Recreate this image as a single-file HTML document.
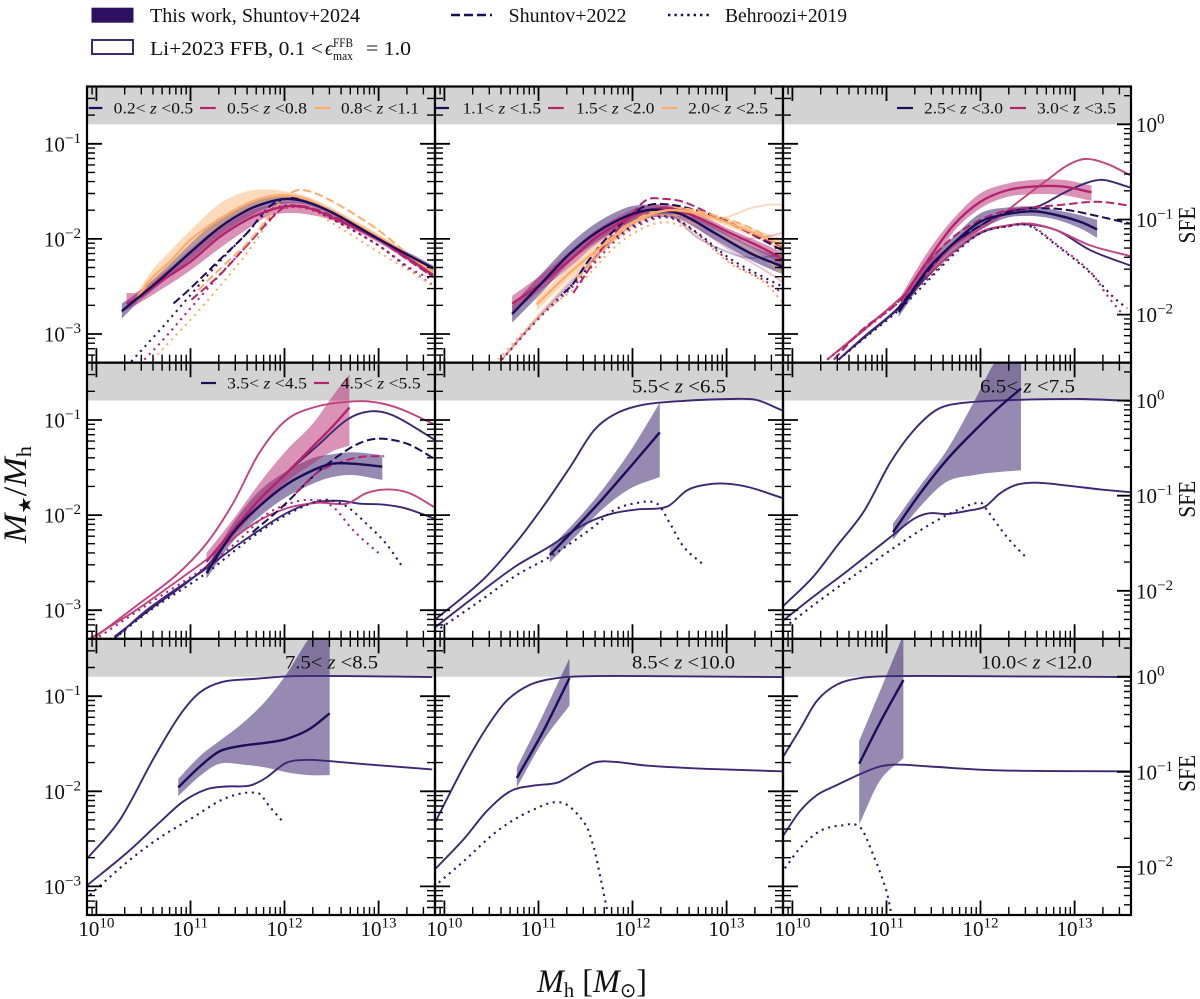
<!DOCTYPE html>
<html lang="en"><head><meta charset="utf-8"><title>Stellar-to-halo mass ratio</title>
<style>
html,body{margin:0;padding:0;background:#fff}
svg{display:block}
text{font-family:"Liberation Serif","DejaVu Serif",serif;fill:#111}
</style></head>
<body>
<svg id="chart" xmlns="http://www.w3.org/2000/svg" width="1200" height="999" viewBox="0 0 1200 999">
<g id="panels"></g>
<g>
<rect x="91.5" y="7.7" width="42" height="15" fill="#2d1160"/>
<text x="150" y="22" font-size="20" textLength="210" lengthAdjust="spacingAndGlyphs">This work, Shuntov+2024</text>
<rect x="92" y="40" width="41" height="14" fill="#fff" stroke="#3f2a72" stroke-width="2"/>
<text x="150" y="55" font-size="20" textLength="173" lengthAdjust="spacingAndGlyphs">Li+2023 FFB, 0.1 &lt;</text>
<text x="325" y="55" font-size="20" font-style="italic">ϵ</text>
<text x="333" y="47" font-size="12.5" textLength="20" lengthAdjust="spacingAndGlyphs">FFB</text>
<text x="333" y="60" font-size="12.5" textLength="20" lengthAdjust="spacingAndGlyphs">max</text>
<text x="366" y="55" font-size="20" textLength="45" lengthAdjust="spacingAndGlyphs">= 1.0</text>
<line x1="451" y1="15" x2="492" y2="15" stroke="#1c0c5a" stroke-width="2.4" stroke-dasharray="9 4"/>
<text x="508.5" y="22" font-size="20" textLength="118" lengthAdjust="spacingAndGlyphs">Shuntov+2022</text>
<line x1="668" y1="15" x2="709" y2="15" stroke="#1c0c5a" stroke-width="2.4" stroke-dasharray="2.4 4"/>
<text x="725" y="22" font-size="20" textLength="122" lengthAdjust="spacingAndGlyphs">Behroozi+2019</text>
</g>
<text transform="translate(26,543) rotate(-90)" font-size="33" textLength="97" lengthAdjust="spacingAndGlyphs"><tspan font-style="italic">M</tspan><tspan font-size="18" dy="5">★</tspan><tspan dy="-5">/</tspan><tspan font-style="italic">M</tspan><tspan font-size="21" dy="5">h</tspan></text>
<text x="537" y="992" font-size="33" textLength="110" lengthAdjust="spacingAndGlyphs"><tspan font-style="italic">M</tspan><tspan font-size="21" dy="5">h</tspan><tspan dy="-5"> [</tspan><tspan font-style="italic">M</tspan><tspan font-size="20" dy="5" font-family="DejaVu Sans">⊙</tspan><tspan dy="-5">]</tspan></text>
</svg>
<script>
/* ---------- tick labels ---------- */
const xTickExponents = ['10', '11', '12', '13'];
const yTickExponents = ['−1', '−2', '−3'];
const sfeTickExponents = ['0', '−1', '−2'];

/* ---------- values: [log10 halo mass, median, lower, upper] as log10 of the stellar-to-halo ratio ---------- */
const p1BandNavy = [[10.27,-2.76,-2.84,-2.68],[10.43,-2.63,-2.68,-2.57],[10.71,-2.40,-2.45,-2.33],[11,-2.14,-2.22,-2.05],[11.31,-1.88,-1.96,-1.78],[11.6,-1.70,-1.78,-1.62],[11.81,-1.62,-1.68,-1.55],[12,-1.58,-1.63,-1.54],[12.23,-1.61,-1.64,-1.58],[12.52,-1.73,-1.76,-1.70],[13,-2.0,-2.02,-1.98],[13.37,-2.2,-2.23,-2.17],[13.58,-2.31,-2.34,-2.28]];
const p1BandPink = [[10.32,-2.68,-2.75,-2.57],[10.43,-2.63,-2.69,-2.56],[10.71,-2.43,-2.52,-2.36],[11,-2.24,-2.33,-2.15],[11.31,-1.98,-2.1,-1.9],[11.6,-1.80,-1.9,-1.72],[11.81,-1.71,-1.77,-1.65],[12,-1.66,-1.73,-1.61],[12.23,-1.67,-1.74,-1.63],[12.52,-1.78,-1.81,-1.75],[13,-2.01,-2.04,-1.98],[13.37,-2.24,-2.27,-2.2],[13.58,-2.38,-2.41,-2.34]];
const p1BandOrange = [[10.43,-2.63,-2.68,-2.58],[10.57,-2.43,-2.5,-2.36],[10.78,-2.24,-2.3,-2.13],[11,-2.01,-2.1,-1.91],[11.31,-1.79,-1.87,-1.63],[11.6,-1.63,-1.7,-1.5],[11.81,-1.56,-1.62,-1.48],[12,-1.54,-1.6,-1.5],[12.23,-1.58,-1.61,-1.55],[12.52,-1.72,-1.75,-1.68],[13,-1.98,-2,-1.95],[13.37,-2.21,-2.24,-2.18],[13.58,-2.35,-2.38,-2.32]];
const p1DashNavy = [[10.82,-2.68],[11,-2.52],[11.31,-2.22],[11.6,-1.94],[11.84,-1.66],[12.02,-1.58],[12.23,-1.58],[12.52,-1.73],[13,-2],[13.37,-2.24],[13.58,-2.4]];
const p1DashPink = [[11.01,-2.64],[11.31,-2.38],[11.6,-2.07],[11.95,-1.7],[12.09,-1.65],[12.3,-1.68],[12.59,-1.8],[13,-2.01],[13.37,-2.26],[13.58,-2.4]];
const p1DashOrange = [[11.08,-2.54],[11.35,-2.28],[11.6,-2.05],[11.81,-1.8],[11.99,-1.58],[12.13,-1.49],[12.3,-1.51],[12.59,-1.65],[13,-1.91],[13.37,-2.21],[13.58,-2.36]];
const p1DotNavy = [[10.37,-3.29],[10.71,-2.92],[11,-2.59],[11.31,-2.24],[11.6,-1.94],[11.81,-1.72],[12,-1.65],[12.23,-1.67],[12.52,-1.8],[13,-2.07],[13.37,-2.35],[13.58,-2.49]];
const p1DotPink = [[10.51,-3.27],[10.71,-3.06],[11,-2.73],[11.31,-2.38],[11.6,-2.07],[11.84,-1.79],[12,-1.68],[12.23,-1.68],[12.52,-1.8],[13,-2.07],[13.37,-2.33],[13.58,-2.43]];
const p1DotOrange = [[10.6,-3.27],[10.78,-3.08],[11,-2.85],[11.31,-2.5],[11.6,-2.15],[11.84,-1.82],[12,-1.67],[12.23,-1.68],[12.52,-1.84],[13,-2.14],[13.37,-2.36],[13.58,-2.5]];

const p2BandNavy = [[10.72,-2.79,-2.88,-2.7],[11,-2.5,-2.6,-2.4],[11.34,-2.15,-2.24,-2.05],[11.62,-1.93,-2.03,-1.83],[11.94,-1.76,-1.84,-1.67],[12.15,-1.7,-1.78,-1.64],[12.33,-1.7,-1.77,-1.65],[12.54,-1.75,-1.81,-1.7],[12.86,-1.93,-2.0,-1.87],[13.25,-2.15,-2.22,-2.07],[13.59,-2.29,-2.37,-2.2]];
const p2BandPink = [[10.72,-2.68,-2.77,-2.6],[11,-2.49,-2.56,-2.4],[11.34,-2.22,-2.29,-2.13],[11.62,-1.98,-2.05,-1.9],[11.98,-1.77,-1.83,-1.7],[12.15,-1.7,-1.76,-1.65],[12.4,-1.68,-1.72,-1.64],[12.68,-1.77,-1.81,-1.73],[13.04,-1.94,-1.98,-1.9],[13.39,-2.1,-2.15,-2.05],[13.59,-2.21,-2.28,-2.14]];
const p2BandOrange = [[10.98,-2.69,-2.76,-2.62],[11.34,-2.35,-2.41,-2.28],[11.62,-2.12,-2.18,-2.05],[11.98,-1.84,-1.9,-1.78],[12.26,-1.72,-1.76,-1.68],[12.47,-1.7,-1.73,-1.66],[12.76,-1.75,-1.78,-1.71],[13.04,-1.84,-1.88,-1.8],[13.39,-1.98,-2.03,-1.93],[13.59,-2.07,-2.14,-2.0]];
const p2DashNavy = [[11.27,-2.57],[11.37,-2.47],[11.51,-2.26],[11.69,-2.03],[11.94,-1.79],[12.15,-1.65],[12.4,-1.64],[12.68,-1.7],[12.97,-1.8],[13.25,-1.94],[13.59,-2.12]];
const p2DashPink = [[11.37,-2.57],[11.51,-2.36],[11.69,-2.08],[11.94,-1.8],[12.15,-1.59],[12.33,-1.58],[12.54,-1.61],[12.79,-1.72],[13.04,-1.84],[13.39,-2],[13.59,-2.08]];
const p2DashOrange = [[11.41,-2.42],[11.69,-2.12],[11.98,-1.84],[12.26,-1.7],[12.54,-1.68],[12.86,-1.75],[13.22,-1.87],[13.59,-2.07]];
const p2DotNavy = [[10.61,-3.27],[11,-2.84],[11.44,-2.4],[11.83,-1.98],[12.15,-1.8],[12.4,-1.77],[12.68,-1.93],[13.04,-2.21],[13.39,-2.4],[13.59,-2.5]];
const p2DotPink = [[10.61,-3.27],[11,-2.84],[11.44,-2.43],[11.83,-2.01],[12.15,-1.82],[12.4,-1.78],[12.68,-1.94],[13.04,-2.24],[13.39,-2.43],[13.59,-2.57]];
const p2DotOrange = [[10.57,-3.27],[11,-2.82],[11.44,-2.47],[11.83,-2.07],[12.15,-1.87],[12.4,-1.83],[12.68,-1.96],[13.04,-2.26],[13.39,-2.45],[13.59,-2.66]];
const p2FaintOrange = [[10.61,-3.27],[11,-2.8],[11.44,-2.33],[11.83,-1.94],[12.15,-1.77],[12.4,-1.75],[12.68,-1.76],[12.97,-1.78],[13.25,-1.68],[13.46,-1.64],[13.59,-1.64]];
const p2FaintNavy = [[10.61,-3.27],[11,-2.82],[11.44,-2.36],[11.83,-1.98],[12.15,-1.75],[12.4,-1.74],[12.68,-1.98],[13.04,-2.15],[13.25,-2.2],[13.59,-2.17]];
const p2FaintPink = [[10.61,-3.27],[11,-2.83],[11.44,-2.38],[11.83,-1.95],[12.15,-1.78],[12.4,-1.74],[12.68,-1.85],[13.04,-2.0],[13.39,-1.98],[13.59,-1.94]];
const p2FaintOrangeLow = [[12.4,-1.75],[12.68,-1.85],[13.04,-2.0],[13.39,-2.2],[13.59,-2.36]];
const p2FaintPinkLow = [[12.4,-1.75],[12.68,-1.88],[13.04,-2.12],[13.39,-2.32],[13.59,-2.45]];

const p3BandNavy = [[11.13,-2.77,-2.82,-2.70],[11.43,-2.33,-2.40,-2.24],[11.71,-2.05,-2.14,-1.98],[12,-1.82,-1.91,-1.73],[12.28,-1.74,-1.78,-1.67],[12.56,-1.71,-1.76,-1.66],[12.81,-1.75,-1.80,-1.70],[13.06,-1.82,-1.89,-1.75],[13.24,-1.9,-1.99,-1.80]];
const p3BandPink = [[11.16,-2.64,-2.71,-2.59],[11.43,-2.24,-2.36,-2.15],[11.71,-1.86,-1.93,-1.79],[12,-1.61,-1.68,-1.52],[12.28,-1.49,-1.56,-1.42],[12.56,-1.45,-1.53,-1.38],[12.88,-1.45,-1.54,-1.38],[13.18,-1.51,-1.6,-1.44]];
const p3DashNavy = [[11.11,-2.75],[11.43,-2.35],[11.71,-2.05],[12,-1.86],[12.28,-1.72],[12.56,-1.68],[12.88,-1.69],[13.24,-1.76],[13.59,-1.84]];
const p3DashPink = [[10.44,-3.27],[10.76,-2.94],[11.11,-2.68],[11.43,-2.26],[11.71,-1.98],[12,-1.8],[12.28,-1.7],[12.56,-1.67],[12.88,-1.64],[13.24,-1.61],[13.59,-1.65]];
const p3DotNavy = [[10.49,-3.27],[10.76,-3.05],[11.13,-2.75],[11.43,-2.45],[11.71,-2.17],[12,-1.94],[12.28,-1.87],[12.51,-1.86],[12.81,-2.07],[13.17,-2.36],[13.41,-2.61],[13.56,-2.73]];
const p3DotPink = [[10.37,-3.27],[10.76,-2.96],[11.13,-2.67],[11.43,-2.43],[11.71,-2.15],[12,-1.93],[12.28,-1.87],[12.51,-1.85],[12.81,-2.06],[13.17,-2.35],[13.35,-2.6],[13.49,-2.77]];
const p3LowerNavy = [[10.49,-3.27],[10.76,-3.04],[11.13,-2.73],[11.43,-2.4],[11.71,-2.14],[12,-1.94],[12.28,-1.86],[12.53,-1.85],[12.81,-1.91],[13.17,-2.12],[13.59,-2.28]];
const p3LowerPink = [[10.37,-3.27],[10.76,-2.96],[11.13,-2.64],[11.43,-2.38],[11.71,-2.14],[12,-1.93],[12.28,-1.86],[12.53,-1.84],[12.81,-1.91],[13.17,-2.07],[13.59,-2.18]];
const p3UpperNavy = [[10.49,-3.27],[10.76,-3.03],[11.13,-2.72],[11.43,-2.36],[11.71,-2.07],[12,-1.86],[12.28,-1.72],[12.63,-1.65],[12.88,-1.52],[13.13,-1.41],[13.31,-1.38],[13.59,-1.46]];
const p3UpperPink = [[10.37,-3.27],[10.76,-2.95],[11.13,-2.64],[11.43,-2.36],[11.71,-2.08],[12,-1.89],[12.17,-1.79],[12.35,-1.65],[12.71,-1.38],[12.92,-1.23],[13.11,-1.16],[13.34,-1.21],[13.59,-1.33]];

const p4BandNavy = [[11.17,-2.61,-2.67,-2.56],[11.45,-2.19,-2.28,-2.09],[11.73,-1.91,-2.02,-1.75],[12.02,-1.68,-1.81,-1.54],[12.3,-1.53,-1.67,-1.40],[12.51,-1.46,-1.6,-1.36],[12.73,-1.46,-1.58,-1.34],[13.04,-1.49,-1.63,-1.37]];
const p4BandPink = [[11.17,-2.49,-2.51,-2.40],[11.45,-2.16,-2.23,-2.05],[11.73,-1.84,-1.93,-1.67],[12.02,-1.56,-1.65,-1.32],[12.3,-1.28,-1.46,-1.04],[12.51,-1.07,-1.33,-0.75],[12.69,-0.87,-1.27,-0.52]];
const p4DashNavy = [[11.66,-2.18],[11.98,-1.91],[12.34,-1.56],[12.69,-1.3],[12.9,-1.21],[13.08,-1.2],[13.33,-1.26],[13.58,-1.4]];
const p4DashPink = [[12.12,-1.77],[12.34,-1.56],[12.55,-1.46],[12.8,-1.39],[13.06,-1.38]];
const p4DotNavy = [[10.19,-3.3],[10.56,-3.01],[11.17,-2.61],[11.45,-2.39],[11.73,-2.18],[12.02,-2],[12.3,-1.87],[12.46,-1.84],[12.66,-1.91],[12.87,-2.09],[13.08,-2.3],[13.25,-2.54]];
const p4DotPink = [[10.03,-3.28],[10.56,-2.93],[11.17,-2.54],[11.52,-2.26],[11.8,-2],[12.02,-1.89],[12.27,-1.84],[12.51,-1.91],[12.73,-2.16],[13,-2.4]];
const p4LowerNavy = [[10.19,-3.3],[10.56,-2.98],[11.17,-2.56],[11.45,-2.35],[11.73,-2.16],[12.02,-1.98],[12.3,-1.87],[12.59,-1.85],[12.8,-1.88],[13.05,-1.89],[13.29,-1.93],[13.6,-2.04]];
const p4LowerPink = [[9.9,-3.32],[10.39,-3.02],[10.85,-2.7],[11.17,-2.47],[11.66,-2.1],[12.02,-1.93],[12.37,-1.87],[12.66,-1.88],[12.87,-1.77],[13.1,-1.73],[13.33,-1.77],[13.6,-1.92]];
const p4UpperNavy = [[10.19,-3.28],[10.56,-3.0],[11.17,-2.54],[11.45,-2.19],[11.73,-1.84],[12.02,-1.56],[12.34,-1.28],[12.66,-1],[12.9,-0.91],[13.15,-0.95],[13.6,-1.21]];
const p4UpperPink = [[9.99,-3.28],[10.39,-2.98],[10.85,-2.63],[11.17,-2.3],[11.45,-1.88],[11.73,-1.35],[12.02,-1],[12.34,-0.86],[12.66,-0.81],[12.94,-0.81],[13.22,-0.88],[13.6,-1.05]];

const p5BandNavy = [[11.12,-2.42,-2.5,-2.35],[11.41,-2.12,-2.21,-2.05],[11.69,-1.82,-1.93,-1.72],[11.98,-1.49,-1.72,-1.32],[12.29,-1.13,-1.6,-0.82]];
const p5Upper = [[9.9,-3.1],[10.41,-2.68],[10.77,-2.28],[11.05,-1.91],[11.34,-1.49],[11.59,-1.11],[11.83,-0.93],[12.12,-0.84],[12.54,-0.8],[13.04,-0.78],[13.32,-0.79],[13.59,-0.9]];
const p5Lower = [[9.9,-3.18],[10.41,-2.79],[10.77,-2.53],[11.12,-2.33],[11.41,-2.14],[11.59,-2.05],[11.8,-1.98],[12.05,-1.94],[12.37,-1.91],[12.58,-1.74],[12.79,-1.68],[13,-1.67],[13.25,-1.71],[13.59,-1.82]];
const p5Dot = [[9.9,-3.23],[10.41,-2.88],[10.77,-2.63],[11.12,-2.44],[11.41,-2.25],[11.59,-2.12],[11.8,-1.95],[12.01,-1.88],[12.26,-1.88],[12.4,-2.09],[12.54,-2.33],[12.75,-2.52]];

const p6BandNavy = [[11.07,-2.18,-2.26,-2.09],[11.36,-1.77,-1.91,-1.69],[11.64,-1.42,-1.65,-1.32],[11.93,-1.12,-1.58,-0.81],[12.17,-0.89,-1.55,-0.37],[12.43,-0.67,-1.53,-0.2]];
const p6Upper = [[9.9,-2.96],[10.22,-2.65],[10.47,-2.33],[10.76,-1.96],[11.04,-1.45],[11.29,-1.11],[11.54,-0.89],[11.82,-0.82],[12.35,-0.79],[13.06,-0.78],[13.59,-0.8]];
const p6Lower = [[9.9,-3.11],[10.22,-2.86],[10.58,-2.59],[11.07,-2.21],[11.29,-2.04],[11.46,-1.98],[11.64,-1.99],[11.89,-1.95],[12.05,-1.91],[12.21,-1.77],[12.39,-1.68],[12.6,-1.66],[12.92,-1.69],[13.27,-1.73],[13.59,-1.76]];
const p6Dot = [[9.97,-3.14],[10.22,-2.95],[10.58,-2.69],[11.07,-2.35],[11.46,-2.1],[11.75,-1.95],[12,-1.87],[12.07,-1.95],[12.28,-2.23],[12.49,-2.45]];

const p7BandNavy = [[10.87,-1.96,-2.05,-1.87],[11.1,-1.74,-1.84,-1.63],[11.31,-1.58,-1.71,-1.47],[11.56,-1.52,-1.72,-1.28],[11.8,-1.49,-1.75,-1.05],[12.02,-1.45,-1.8,-0.77],[12.26,-1.35,-1.83,-0.39],[12.48,-1.18,-1.83,-0.1]];
const p7Upper = [[9.9,-2.71],[10.25,-2.3],[10.6,-1.67],[10.88,-1.21],[11.1,-0.96],[11.34,-0.85],[11.66,-0.82],[12.08,-0.79],[12.79,-0.79],[13.57,-0.8]];
const p7Lower = [[9.9,-2.99],[10.32,-2.65],[10.67,-2.33],[10.92,-2.11],[11.17,-1.98],[11.38,-1.95],[11.63,-1.94],[11.8,-1.86],[12.02,-1.7],[12.23,-1.67],[12.44,-1.68],[12.79,-1.71],[13.57,-1.77]];
const p7Dot = [[9.93,-3.09],[10.32,-2.75],[10.67,-2.49],[11.02,-2.28],[11.38,-2.07],[11.72,-2.02],[11.84,-2.16],[12,-2.34]];

const p8BandNavy = [[10.77,-1.86,-1.96,-1.75],[11.05,-1.37,-1.47,-1.19],[11.33,-0.81,-1.1,-0.6]];
const p8Upper = [[9.9,-2.33],[10.2,-1.75],[10.45,-1.33],[10.66,-1.05],[10.91,-0.88],[11.2,-0.81],[11.55,-0.79],[12.33,-0.79],[13.59,-0.8]];
const p8Lower = [[9.9,-2.82],[10.2,-2.51],[10.45,-2.21],[10.7,-2],[10.95,-1.94],[11.2,-1.91],[11.37,-1.82],[11.59,-1.7],[11.8,-1.69],[12.15,-1.73],[12.68,-1.76],[13.59,-1.79]];
const p8Dot = [[9.94,-2.96],[10.2,-2.74],[10.56,-2.42],[10.91,-2.21],[11.25,-2.12],[11.5,-2.35],[11.59,-2.6],[11.66,-2.91],[11.73,-3.25]];

const p9BandNavy = [[10.71,-1.71,-2.35,-1.47],[10.93,-1.28,-1.89,-0.95],[11.18,-0.83,-1.65,-0.35]];
const p9Upper = [[9.9,-1.64],[10.08,-1.35],[10.26,-1.05],[10.47,-0.88],[10.72,-0.81],[11,-0.79],[12,-0.79],[13.59,-0.8]];
const p9Lower = [[9.9,-2.47],[10.08,-2.21],[10.26,-2.04],[10.44,-1.95],[10.72,-1.82],[10.93,-1.74],[11.11,-1.72],[11.46,-1.74],[12.17,-1.78],[13.59,-1.79]];
const p9Dot = [[9.92,-2.81],[10.08,-2.6],[10.29,-2.42],[10.52,-2.36],[10.72,-2.38],[10.86,-2.67],[11,-3.05],[11.05,-3.28]];

/* ---------- layout and axis functions ---------- */
const NS = 'http://www.w3.org/2000/svg';
const root = document.getElementById('panels');
const colLeft = [87, 435, 783], rowTop = [86.5, 362.7, 638.9];
const panelW = 348, panelH = 276.1;
const xMin = 9.9, xMax = 13.6, yMin = Math.log10(5e-4), yMax = Math.log10(0.4);
const baryon = Math.log10(0.16);
const COLORS = {navy:'#1c0c5a', pink:'#b4246c', orange:'#fdae6b'};
const BAND = {navy:'#2d1566', pink:'#b5286f', orange:'#fda75f'};
const FFB = {navy:'#3d2674', pink:'#c1437f', orange:'#fdb27a'};

const xAxis = (col, v) => colLeft[col] + (v - xMin) / (xMax - xMin) * panelW;
const yAxis = (row, v) => rowTop[row] + (yMax - v) / (yMax - yMin) * panelH;

function mk(tag, parent) {
  const e = document.createElementNS(NS, tag);
  parent.appendChild(e);
  return e;
}
function spline(pts) {
  const n = pts.length;
  const slope = i => {
    const a = pts[Math.max(i - 1, 0)], b = pts[Math.min(i + 1, n - 1)];
    return (b[1] - a[1]) / (b[0] - a[0]);
  };
  let d = '';
  for (let i = 0; i < n - 1; i++) {
    const p1 = pts[i], p2 = pts[i + 1], h = (p2[0] - p1[0]) / 3;
    const c1y = p1[1] + slope(i) * h, c2y = p2[1] - slope(i + 1) * h;
    d += 'C' + [p1[0] + h, c1y, p2[0] - h, c2y, p2[0], p2[1]].map(v => v.toFixed(1)).join(' ');
  }
  return d;
}
function drawBand(g, col, row, data, color) {
  const up = data.map(d => [xAxis(col, d[0]), yAxis(row, d[3])]);
  const lo = data.map(d => [xAxis(col, d[0]), yAxis(row, d[2])]).reverse();
  const path = mk('path', g);
  
  
  path.setAttribute('d', 'M' + up[0].join(' ') + spline(up) + 'L' + lo[0].join(' ') + spline(lo) + 'Z');
  path.setAttribute('fill', BAND[color]);
  path.setAttribute('fill-opacity', color === 'orange' ? '0.42' : '0.5');
}
function drawLine(g, col, row, data, color, style, opacity) {
  const pts = data.map(d => [xAxis(col, d[0]), yAxis(row, d[1])]);
  const path = mk('path', g);
  
  
  path.setAttribute('d', 'M' + pts[0].join(' ') + spline(pts));
  path.setAttribute('fill', 'none');
  if (style === 'median') { path.setAttribute('stroke', COLORS[color]); path.setAttribute('stroke-width', '2.4'); }
  if (style === 'dashed') { path.setAttribute('stroke', COLORS[color]); path.setAttribute('stroke-width', '2'); path.setAttribute('stroke-dasharray', '8.5 3.8'); }
  if (style === 'dotted') { path.setAttribute('stroke', color === 'navy' ? '#2c1566' : COLORS[color]); path.setAttribute('stroke-width', '2.1'); path.setAttribute('stroke-dasharray', '2.1 4.6'); }
  if (style === 'ffb') { path.setAttribute('stroke', FFB[color]); path.setAttribute('stroke-width', '1.9'); }
  if (opacity) path.setAttribute('stroke-opacity', opacity);
}

const panelBands = [
  [[p1BandNavy,'navy'],[p1BandPink,'pink'],[p1BandOrange,'orange']],
  [[p2BandOrange,'orange'],[p2BandNavy,'navy'],[p2BandPink,'pink']],
  [[p3BandNavy,'navy'],[p3BandPink,'pink']],
  [[p4BandNavy,'navy'],[p4BandPink,'pink']],
  [[p5BandNavy,'navy']],[[p6BandNavy,'navy']],[[p7BandNavy,'navy']],[[p8BandNavy,'navy']],[[p9BandNavy,'navy']]
];
const panelDashed = [
  [[p1DashNavy,'navy'],[p1DashPink,'pink'],[p1DashOrange,'orange']],
  [[p2DashNavy,'navy'],[p2DashPink,'pink'],[p2DashOrange,'orange']],
  [[p3DashNavy,'navy'],[p3DashPink,'pink']],
  [[p4DashNavy,'navy'],[p4DashPink,'pink']],[],[],[],[],[]
];
const panelDotted = [
  [[p1DotNavy,'navy'],[p1DotPink,'pink'],[p1DotOrange,'orange']],
  [[p2DotNavy,'navy'],[p2DotPink,'pink'],[p2DotOrange,'orange']],
  [[p3DotNavy,'navy'],[p3DotPink,'pink']],
  [[p4DotNavy,'navy'],[p4DotPink,'pink']],
  [[p5Dot,'navy']],[[p6Dot,'navy']],[[p7Dot,'navy']],[[p8Dot,'navy']],[[p9Dot,'navy']]
];
const panelFfb = [
  [],
  [[p2FaintNavy,'navy','0.33'],[p2FaintPink,'pink','0.33'],[p2FaintOrange,'orange','0.5'],[p2FaintOrangeLow,'orange','0.5'],[p2FaintPinkLow,'pink','0.33']],
  [[p3LowerNavy,'navy'],[p3LowerPink,'pink'],[p3UpperNavy,'navy'],[p3UpperPink,'pink']],
  [[p4LowerNavy,'navy'],[p4LowerPink,'pink'],[p4UpperNavy,'navy'],[p4UpperPink,'pink']],
  [[p5Upper,'navy'],[p5Lower,'navy']],[[p6Upper,'navy'],[p6Lower,'navy']],[[p7Upper,'navy'],[p7Lower,'navy']],[[p8Upper,'navy'],[p8Lower,'navy']],[[p9Upper,'navy'],[p9Lower,'navy']]
];
const panelKeys = [
  [[88.7,102.4,'navy',113.7,79.5,'0.2','0.5'],[200,215.7,'pink',227,80,'0.5','0.8'],[314.7,330,'orange',341,78,'0.8','1.1']],
  [[436,449,'navy',462.6,78.5,'1.1','1.5'],[548,563.7,'pink',576,78.5,'1.5','2.0'],[661.6,677,'orange',688,80,'2.0','2.5']],
  [[897,913,'navy',924,79,'2.5','3.0'],[1010,1026,'pink',1037,79,'3.0','3.5']],
  [[201,216,'navy',227,80,'3.5','4.5'],[314,329,'pink',340.7,80,'4.5','5.5']],
  [],[],[],[],[]
];
const panelTitles = [null,null,null,null,[632,94,'5.5','6.5',386],[980,95,'6.5','7.5',386],[285,93,'7.5','8.5',662],[632,103,'8.5','10.0',662],[981,111,'10.0','12.0',662]];

function rangeLabel(t, lo, hi) {
  t.appendChild(document.createTextNode(lo + '< '));
  const z = mk('tspan', t);
  z.setAttribute('font-style', 'italic');
  z.textContent = 'z';
  t.appendChild(document.createTextNode(' <' + hi));
}
function tickLabel(parent, x, y, anchor, exponent, size) {
  const t = mk('text', parent);
  
  
  t.setAttribute('x', x);
  t.setAttribute('y', y);
  t.setAttribute('text-anchor', anchor);
  t.setAttribute('font-size', size);
  t.appendChild(document.createTextNode('10'));
  const s = mk('tspan', t);
  s.setAttribute('dy', '-8.5');
  s.setAttribute('font-size', size * 0.72);
  s.textContent = exponent;
}

for (let row = 0; row < 3; row++) for (let col = 0; col < 3; col++) {
  const idx = row * 3 + col;
  const L = colLeft[col], T = rowTop[row], R = L + panelW, B = T + panelH;
  const g = mk('g', root);
  
  
  const cp = mk('clipPath', g);
  cp.setAttribute('id', 'clip' + idx);
  const cr = mk('rect', cp);
  cr.setAttribute('x', L); cr.setAttribute('y', T); cr.setAttribute('width', panelW); cr.setAttribute('height', panelH);

  const plot = mk('g', g);
  
  
  plot.setAttribute('clip-path', 'url(#clip' + idx + ')');

  const gray = mk('rect', plot);
  
  
  gray.setAttribute('x', L);
  gray.setAttribute('y', T);
  gray.setAttribute('width', panelW);
  gray.setAttribute('height', yAxis(row, baryon) - T);
  gray.setAttribute('fill', '#d3d3d3');

  panelBands[idx].forEach(b => drawBand(plot, col, row, b[0], b[1]));
  panelFfb[idx].forEach(s => drawLine(plot, col, row, s[0], s[1], 'ffb', s[2]));
  panelDotted[idx].forEach(s => drawLine(plot, col, row, s[0], s[1], 'dotted'));
  panelDashed[idx].forEach(s => drawLine(plot, col, row, s[0], s[1], 'dashed'));
  panelBands[idx].slice().reverse().forEach(b => drawLine(plot, col, row, b[0], b[1], 'median'));

  /* ticks */
  let dMaj = '', dMin = '';
  for (let dec = 9; dec <= 13; dec++) for (let m = 1; m <= 9; m++) {
    const lv = dec + Math.log10(m);
    if (lv < xMin || lv > xMax) continue;
    const x = xAxis(col, lv).toFixed(1), len = m === 1 ? 14.5 : 8;
    const seg = 'M' + x + ' ' + B + 'V' + (B - len) + 'M' + x + ' ' + T + 'V' + (T + len);
    if (m === 1) dMaj += seg; else dMin += seg;
  }
  for (let dec = -4; dec <= -1; dec++) for (let m = 1; m <= 9; m++) {
    const lv = dec + Math.log10(m);
    if (lv < yMin - 1e-6 || lv > yMax + 1e-6) continue;
    const y = yAxis(row, lv).toFixed(1), len = m === 1 ? 15 : 8;
    let seg = 'M' + L + ' ' + y + 'H' + (L + len);
    if (col < 2) seg += 'M' + R + ' ' + y + 'H' + (R - len);
    if (m === 1) dMaj += seg; else dMin += seg;
  }
  if (col === 2) for (let dec = -3; dec <= 0; dec++) for (let m = 1; m <= 9; m++) {
    const lv = baryon + dec + Math.log10(m);
    if (lv < yMin || lv > yMax) continue;
    const y = yAxis(row, lv).toFixed(1), len = m === 1 ? 14 : 7;
    const seg = 'M' + R + ' ' + y + 'H' + (R - len);
    if (m === 1) dMaj += seg; else dMin += seg;
  }
  const tMaj = mk('path', g);
  
  
  tMaj.setAttribute('d', dMaj);
  tMaj.setAttribute('stroke', '#000');
  tMaj.setAttribute('stroke-width', '1.8');
  tMaj.setAttribute('fill', 'none');
  const tMin = mk('path', g);
  
  
  tMin.setAttribute('d', dMin);
  tMin.setAttribute('stroke', '#000');
  tMin.setAttribute('stroke-width', '1.4');
  tMin.setAttribute('fill', 'none');

  const frame = mk('rect', g);
  
  
  frame.setAttribute('x', L); frame.setAttribute('y', T); frame.setAttribute('width', panelW); frame.setAttribute('height', panelH);
  frame.setAttribute('fill', 'none');
  frame.setAttribute('stroke', '#000');
  frame.setAttribute('stroke-width', '2.2');

  /* tick labels */
  if (row === 2) xTickExponents.forEach(e => tickLabel(g, xAxis(col, +e), 936, 'middle', e, 21));
  if (col === 0) yTickExponents.forEach(e => tickLabel(g, 81, yAxis(row, parseFloat(e.replace('−', '-'))) + 7.5, 'end', e, 21));
  if (col === 2) {
    sfeTickExponents.forEach(e => tickLabel(g, 1136, yAxis(row, baryon + parseFloat(e.replace('−', '-'))) + 7.5, 'start', e, 21));
    const sfe = mk('text', g);
    
    
    sfe.setAttribute('transform', 'translate(1195,' + (T + 157 - row * 2) + ') rotate(-90)');
    sfe.setAttribute('font-size', '24');
    sfe.setAttribute('textLength', '37');
    sfe.setAttribute('lengthAdjust', 'spacingAndGlyphs');
    sfe.textContent = 'SFE';
  }

  /* redshift keys */
  const keyY = row === 0 ? 108 : 383;
  panelKeys[idx].forEach(k => {
    const h = mk('line', g);
    
    
    h.setAttribute('x1', k[0]); h.setAttribute('x2', k[1]);
    h.setAttribute('y1', keyY); h.setAttribute('y2', keyY);
    h.setAttribute('stroke', COLORS[k[2]]);
    h.setAttribute('stroke-width', '2.2');
    const t = mk('text', g);
    
    
    t.setAttribute('x', k[3]);
    t.setAttribute('y', keyY + 5.5);
    t.setAttribute('font-size', '15.5');
    t.setAttribute('textLength', k[4]);
    t.setAttribute('lengthAdjust', 'spacingAndGlyphs');
    rangeLabel(t, k[5], k[6]);
  });
  if (panelTitles[idx]) {
    const p = panelTitles[idx];
    const t = mk('text', g);
    
    
    t.setAttribute('x', p[0]);
    t.setAttribute('y', p[4] + 6.5);
    t.setAttribute('font-size', '18.5');
    t.setAttribute('textLength', p[1]);
    t.setAttribute('lengthAdjust', 'spacingAndGlyphs');
    rangeLabel(t, p[2], p[3]);
  }
}
</script>
</body></html>
